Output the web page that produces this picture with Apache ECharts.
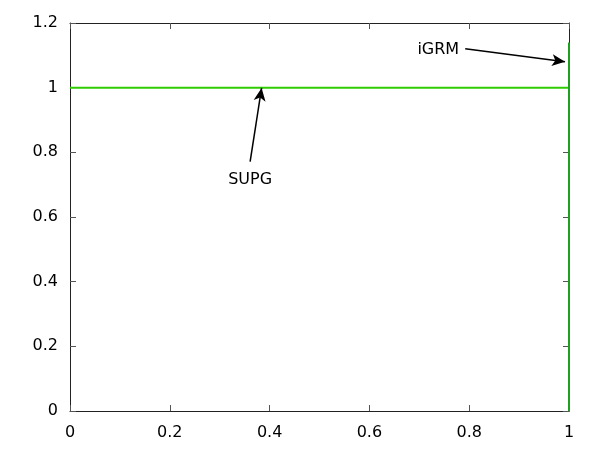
<!DOCTYPE html>
<html><head><meta charset="utf-8">
<script src="https://cdn.jsdelivr.net/npm/echarts@6/dist/echarts.min.js"></script>
<style>html,body{margin:0;padding:0;background:#fff}#c{width:600px;height:450px}</style>
</head><body><div id="c"></div>
<script>
var xTicks = [0, 0.2, 0.4, 0.6, 0.8, 1];
var yTicks = [0, 0.2, 0.4, 0.6, 0.8, 1, 1.2];
var supgX = [0, 1];
var supgY = [1, 1];
var igrmX = [1, 1];
var igrmY = [0, 1.14];
var supgLabel = {text: 'SUPG', pos: [0.361, 0.715], tail: [0.361, 0.771], head: [0.384, 0.999]};
var igrmLabel = {text: 'iGRM', pos: [0.738, 1.118], tail: [0.792, 1.12], head: [0.992, 1.08]};

var font = 'DejaVu Sans';
function pairs(xs, ys){ return xs.map(function(x,i){return [x, ys[i]];}); }
function ann(a){
  return {
    markLine: {silent:true, symbol:['none','arrow'], symbolSize:[9,13], animation:false,
      lineStyle:{color:'#000', width:1.5, type:'solid'}, label:{show:false},
      data:[[{coord:a.tail},{coord:a.head}]]},
    markPoint: {silent:true, symbol:'circle', symbolSize:0, animation:false,
      label:{show:true, position:'inside', formatter:a.text, color:'#000', fontFamily:font, fontSize:16},
      data:[{coord:a.pos}]}
  };
}
var s1 = {type:'line', data:pairs(supgX, supgY), showSymbol:false, lineStyle:{color:'#2ecc00', width:2}, z:3, animation:false};
Object.assign(s1, ann(supgLabel));
var s2 = {type:'line', data:pairs(igrmX, igrmY), showSymbol:false, lineStyle:{color:'#1f9f1f', width:2}, z:3, animation:false};
Object.assign(s2, ann(igrmLabel));

var axLine = {show:true, onZero:false, lineStyle:{color:'#222', width:1}};
var tick = {show:true, inside:true, length:6, lineStyle:{color:'#555'}};
function fmt(v){return String(Math.round(v*10)/10);}
var chart = echarts.init(document.getElementById('c'));
chart.setOption({
  animation:false,
  grid:{left:70, right:31, top:23, bottom:39},
  xAxis:[
    {type:'value', min:xTicks[0], max:xTicks[xTicks.length-1], interval:0.2, position:'bottom', axisLine:axLine, axisTick:tick, splitLine:{show:false},
     axisLabel:{color:'#000', fontFamily:font, fontSize:16, margin:14, formatter:fmt}},
    {type:'value', min:xTicks[0], max:xTicks[xTicks.length-1], interval:0.2, position:'top', axisLine:axLine, axisTick:tick, splitLine:{show:false}, axisLabel:{show:false}}
  ],
  yAxis:[
    {type:'value', min:yTicks[0], max:yTicks[yTicks.length-1], interval:0.2, position:'left', axisLine:axLine, axisTick:tick, splitLine:{show:false},
     axisLabel:{color:'#000', fontFamily:font, fontSize:16, margin:12, formatter:fmt}},
    {type:'value', min:yTicks[0], max:yTicks[yTicks.length-1], interval:0.2, position:'right', axisLine:axLine, axisTick:tick, splitLine:{show:false}, axisLabel:{show:false}}
  ],
  series:[s1, s2]
});
</script></body></html>
